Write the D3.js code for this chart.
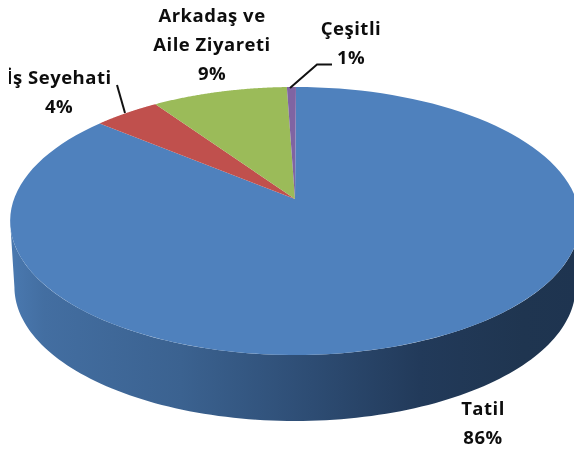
<!DOCTYPE html>
<html><head><meta charset="utf-8">
<script src="https://cdn.jsdelivr.net/npm/d3@7"></script>
<style>html,body{margin:0;padding:0;background:#fff;overflow:hidden}svg{display:block}
text{font-family:"Open Sans",sans-serif;font-weight:700;fill:#111;font-size:18.5px;letter-spacing:0.5px}</style>
</head><body><svg id="c" width="574" height="451"></svg>
<script>
const categories = ["Tatil","İş Seyehati","Arkadaş ve Aile Ziyareti","Çeşitli"];
const values = [86,4.4,9,0.6];
const percentLabels = ["86%","4%","9%","1%"];
const colors = ["#4f81bd","#c0504d","#9bbb59","#8064a2"];
const labelLines = [["Tatil","86%"],["İş Seyehati","4%"],["Arkadaş ve","Aile Ziyareti","9%"],["Çeşitli","1%"]];
const labelAnchors = [[483,415],[59,84],[212,22],[351,35]];
const leaders = [null,[[117,85],[125,113]],null,[[290,88],[317,64.5],[332,64.5]]];

const W=574,H=451, apex=[295,199], a=281, b=130.4, k=-0.164, depth=66;
const svg=d3.select("#c");
const defs=svg.append("defs");
const grad=defs.append("linearGradient").attr("id","side").attr("gradientUnits","userSpaceOnUse")
  .attr("x1",10).attr("x2",580).attr("y1",0).attr("y2",0);
[[0,"#4a79b0"],[0.06,"#436ea1"],[0.3,"#3b6290"],[0.5,"#2f4f77"],[0.72,"#223a5a"],[0.9,"#1f3550"],[1,"#1e3450"]]
 .forEach(s=>grad.append("stop").attr("offset",s[0]).attr("stop-color",s[1]));
defs.append("clipPath").attr("id","lbl").append("rect").attr("x",9).attr("y",0).attr("width",W).attr("height",H);
defs.append("filter").attr("id","soft").append("feGaussianBlur").attr("stdDeviation",0.4);

const pie=d3.pie().sort(null).startAngle(0.004).endAngle(2*Math.PI+0.004)(values);
const proj=(t,dy=0,s=1)=>{const u=Math.sin(t),v=-Math.cos(t),w=1+k*v;return [apex[0]+s*a*u/w,apex[1]+b*v/w+dy];};
const line=d3.line();
const arcPts=(t0,t1,dy=0,s=1)=>d3.range(0,121).map(i=>proj(t0+(t1-t0)*i/120,dy,s));

// side wall: from the widest points of the projected rim, extruded downward
const tR=Math.acos(k), tL=2*Math.PI-tR;
svg.append("path").attr("fill","url(#side)")
  .attr("d",line([...arcPts(tL,tR,0),...arcPts(tR,tL,depth,0.985)])+"Z");

svg.append("g").selectAll("path").data(pie).join("path")
  .attr("fill",(d,i)=>colors[i])
  .attr("d",d=>line([apex,...arcPts(d.startAngle,d.endAngle)])+"Z");

svg.append("g").selectAll("path").data(leaders.filter(Boolean)).join("path")
  .attr("fill","none").attr("stroke","#111").attr("stroke-width",2).attr("d",d=>line(d));

const g=svg.append("g").attr("clip-path","url(#lbl)");
labelLines.forEach((ls,i)=>{
  const t=g.append("text").attr("text-anchor","middle").attr("filter","url(#soft)");
  ls.forEach((s,j)=>t.append("tspan").attr("x",labelAnchors[i][0]).attr("y",labelAnchors[i][1]+j*29).text(s));
});
</script></body></html>
